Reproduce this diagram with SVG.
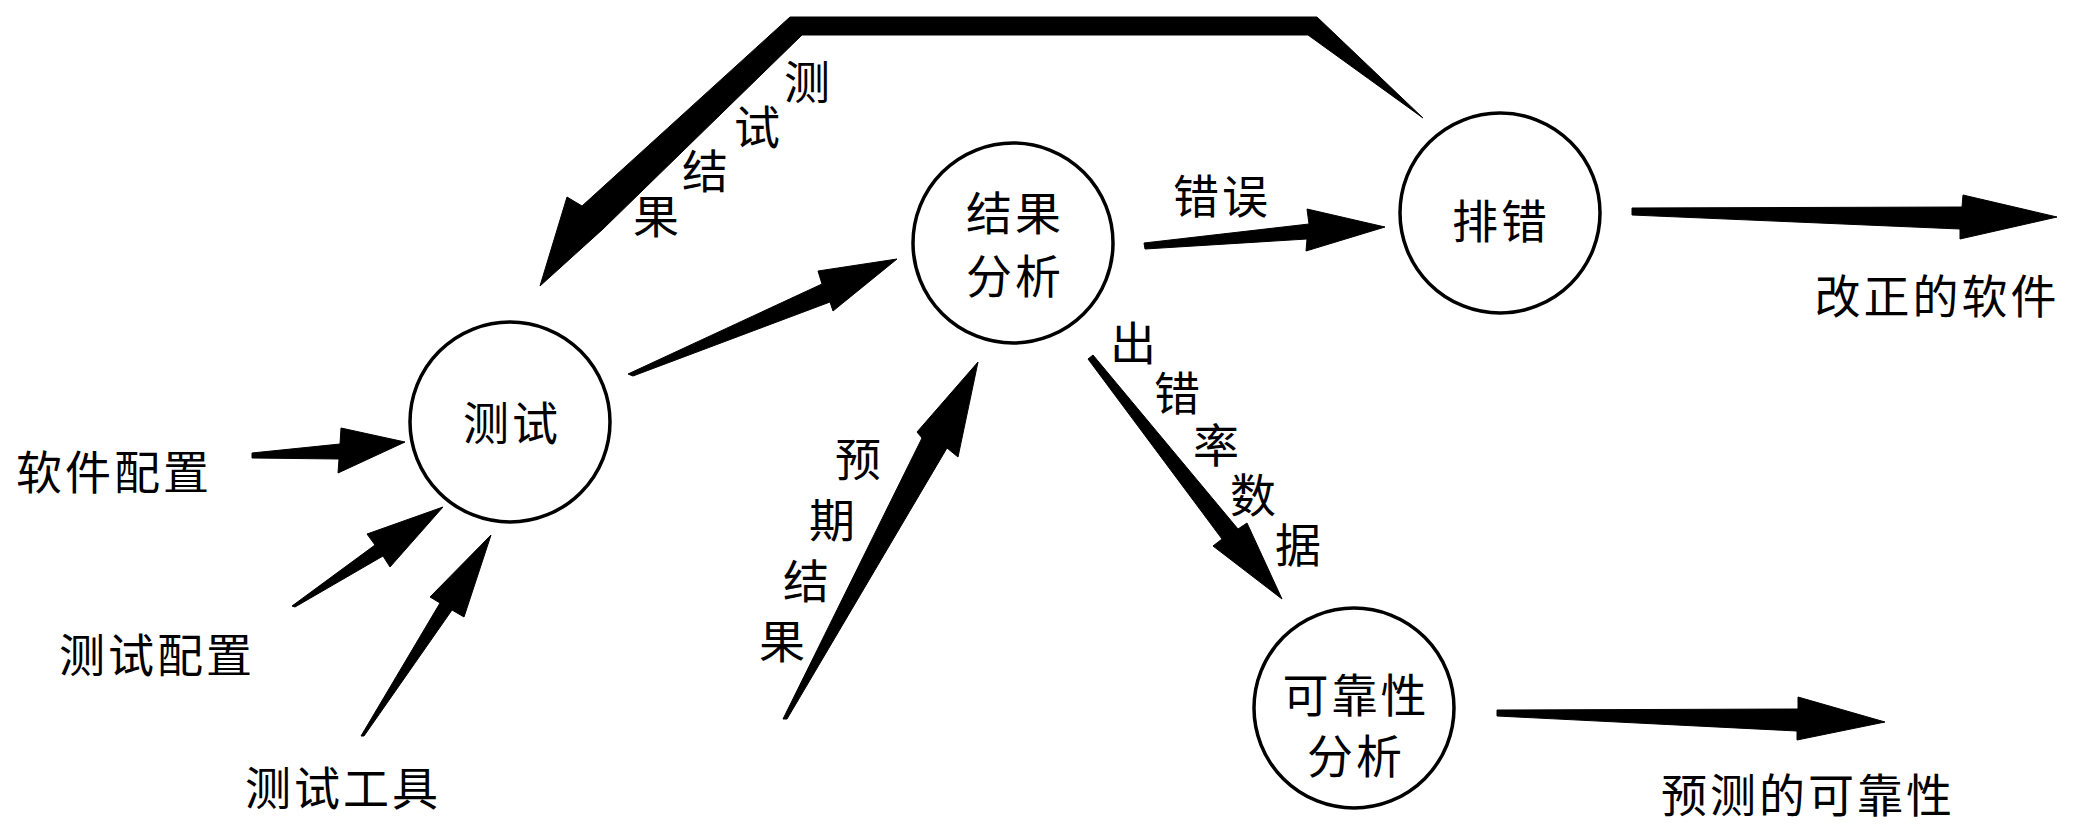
<svg xmlns="http://www.w3.org/2000/svg" width="2083" height="837" viewBox="0 0 2083 837">
<style>
.bg{fill:#ffffff}
.node{fill:#ffffff;stroke:#000000;stroke-width:3.5}
.arrow{fill:#000000;stroke:#000000;stroke-width:1;stroke-linejoin:round}
text{font-family:"Noto Sans CJK SC","Noto Sans",sans-serif;font-size:46px;fill:#000000;text-anchor:middle;dominant-baseline:central;letter-spacing:3px}
.v{letter-spacing:0}
</style>
<rect class="bg" x="0" y="0" width="2083" height="837"/>
<g id="connectors">
  <polygon id="e-feedback" class="arrow" points="1423,118 1317,17 790,17 582,206 567,197 540,286 603,229 802,35 1308,35"/>
  <polygon id="e-test-analysis" class="arrow" points="628,374 822,284 818,271 897,259 833,311 830,302 633,376"/>
  <polygon id="e-error" class="arrow" points="1144,243 1309,224 1307,209 1385,227 1306,251 1307,239 1145,249"/>
  <polygon id="e-fixed" class="arrow" points="1632,208 1962,207 1963,195 2057,217 1960,239 1960,229 1632,215"/>
  <polygon id="e-reliability" class="arrow" points="1497,710 1798,709 1798,697 1885,722 1797,740 1797,731 1497,716"/>
  <polygon id="e-swconfig" class="arrow" points="252,453 340,444 341,428 405,442 338,473 339,459 252,458"/>
  <polygon id="e-testconfig" class="arrow" points="292,606 375,545 367,534 443,507 390,567 383,556 295,607"/>
  <polygon id="e-testtool" class="arrow" points="361,736 440,603 430,597 491,535 464,617 452,610 364,736"/>
  <polygon id="e-expected" class="arrow" points="783,719 922,438 917,432 978,362 958,457 947,448 787,719"/>
  <polygon id="e-errrate" class="arrow" points="1088,359 1222,539 1213,546 1282,599 1247,523 1238,529 1093,355"/>
  <g id="edge-labels">
    <text class="v" x="807" y="79">测</text>
    <text class="v" x="757" y="124">试</text>
    <text class="v" x="705" y="168">结</text>
    <text class="v" x="656" y="213">果</text>
    <text class="v" x="858" y="456">预</text>
    <text class="v" x="832" y="517">期</text>
    <text class="v" x="806" y="578">结</text>
    <text class="v" x="782" y="638">果</text>
    <text class="v" x="1133" y="340">出</text>
    <text class="v" x="1177" y="390">错</text>
    <text class="v" x="1216" y="442">率</text>
    <text class="v" x="1253" y="492">数</text>
    <text class="v" x="1298" y="542">据</text>
    <text x="1222" y="193">错误</text>
  </g>
</g>
<g id="node-test">
  <circle class="node" cx="510" cy="422" r="100"/>
  <text x="512" y="420">测试</text>
</g>
<g id="node-analysis">
  <circle class="node" cx="1013" cy="243" r="100"/>
  <text x="1015" y="210">结果</text>
  <text x="1015" y="273">分析</text>
</g>
<g id="node-debug">
  <circle class="node" cx="1500" cy="213" r="100"/>
  <text x="1501" y="218">排错</text>
</g>
<g id="node-reliability">
  <circle class="node" cx="1354" cy="708" r="100"/>
  <text x="1356" y="692">可靠性</text>
  <text x="1356" y="753">分析</text>
</g>
<g id="node-swconfig"><text x="114" y="469">软件配置</text></g>
<g id="node-testconfig"><text x="157" y="652">测试配置</text></g>
<g id="node-testtool"><text x="343" y="785">测试工具</text></g>
<g id="node-fixed"><text x="1937" y="293">改正的软件</text></g>
<g id="node-predicted"><text x="1808" y="792">预测的可靠性</text></g>
</svg>
